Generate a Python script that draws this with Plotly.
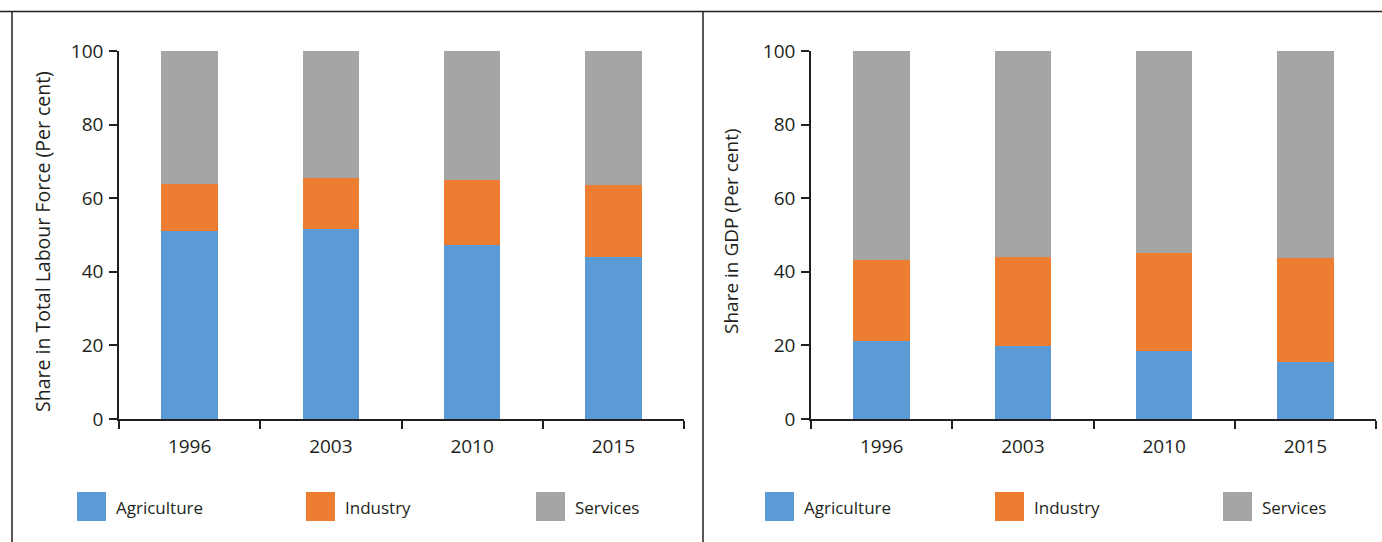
import plotly.graph_objects as go

years = ["1996", "2003", "2010", "2015"]
# Share in total labour force (per cent)
lab_agri = [51.1, 51.6, 47.3, 44.0]
lab_ind = [12.8, 13.9, 17.6, 19.6]
lab_serv = [36.1, 34.5, 35.1, 36.4]
# Share in GDP (per cent)
gdp_agri = [21.2, 19.8, 18.5, 15.5]
gdp_ind = [22.0, 24.2, 26.6, 28.3]
gdp_serv = [56.8, 56.0, 54.9, 56.2]

series_names = ["Agriculture", "Industry", "Services"]
colors = ["#5b9bd5", "#ed7d31", "#a5a5a5"]

W, H = 1382, 542
FONT = "Open Sans"
DARK = "#231f20"


def px(x):
    return x / W


def py(y):
    return 1 - y / H


fig = go.Figure()
for vals, name, col in zip([lab_agri, lab_ind, lab_serv], series_names, colors):
    fig.add_trace(go.Bar(x=years, y=vals, name=name, marker_color=col,
                         marker_line_width=0, xaxis="x", yaxis="y", showlegend=False))
for vals, name, col in zip([gdp_agri, gdp_ind, gdp_serv], series_names, colors):
    fig.add_trace(go.Bar(x=years, y=vals, name=name, marker_color=col,
                         marker_line_width=0, xaxis="x2", yaxis="y2", showlegend=False))

axis_common = dict(showline=True, linecolor=DARK, linewidth=1.6, ticks="outside",
                   ticklen=8, tickwidth=1.6, tickcolor=DARK, showgrid=False,
                   zeroline=False, automargin=False,
                   tickfont=dict(family=FONT, size=19, color=DARK))
ydom = [py(419), py(51)]
fig.update_layout(
    width=W, height=H, autosize=False,
    margin=dict(l=0, r=0, t=0, b=0, pad=0, autoexpand=False),
    paper_bgcolor="white", plot_bgcolor="white",
    barmode="stack", bargap=0.6, showlegend=False,
    xaxis=dict(domain=[px(119), px(684)], anchor="y", tickson="boundaries",
               ticklabelstandoff=9, **axis_common),
    yaxis=dict(domain=ydom, anchor="x", range=[0, 100], tickvals=[0, 20, 40, 60, 80, 100],
               ticklabelstandoff=2, **axis_common),
    xaxis2=dict(domain=[px(811), px(1376)], anchor="y2", tickson="boundaries",
                ticklabelstandoff=9, **axis_common),
    yaxis2=dict(domain=ydom, anchor="x2", range=[0, 100], tickvals=[0, 20, 40, 60, 80, 100],
                ticklabelstandoff=2, **axis_common),
    font=dict(family=FONT, color=DARK),
)

shapes = [
    dict(type="line", xref="paper", yref="paper", x0=0, x1=1, y0=py(11.5), y1=py(11.5),
         line=dict(color=DARK, width=1.5)),
    dict(type="line", xref="paper", yref="paper", x0=px(12), x1=px(12), y0=py(11.5), y1=0,
         line=dict(color=DARK, width=1.5)),
    dict(type="line", xref="paper", yref="paper", x0=px(703), x1=px(703), y0=py(11.5), y1=0,
         line=dict(color=DARK, width=1.5)),
]
annotations = [
    dict(text="Share in Total Labour Force (Per cent)", xref="paper", yref="paper",
         x=px(43), y=py(242), textangle=-90, showarrow=False,
         font=dict(family=FONT, size=19.5, color=DARK), xanchor="center", yanchor="middle"),
    dict(text="Share in GDP (Per cent)", xref="paper", yref="paper",
         x=px(731), y=py(231), textangle=-90, showarrow=False,
         font=dict(family=FONT, size=19, color=DARK), xanchor="center", yanchor="middle"),
]
legend_x = [[77, 306, 536], [765, 995, 1223]]
for row in legend_x:
    for x0, name, col in zip(row, series_names, colors):
        shapes.append(dict(type="rect", xref="paper", yref="paper",
                           x0=px(x0), x1=px(x0 + 29), y0=py(521), y1=py(492),
                           fillcolor=col, line=dict(width=0)))
        annotations.append(dict(text=name, xref="paper", yref="paper",
                                x=px(x0 + 37), y=py(507), xanchor="left", yanchor="middle",
                                showarrow=False, font=dict(family=FONT, size=17, color=DARK)))
fig.update_layout(shapes=shapes, annotations=annotations)

fig.write_html("out.html")
